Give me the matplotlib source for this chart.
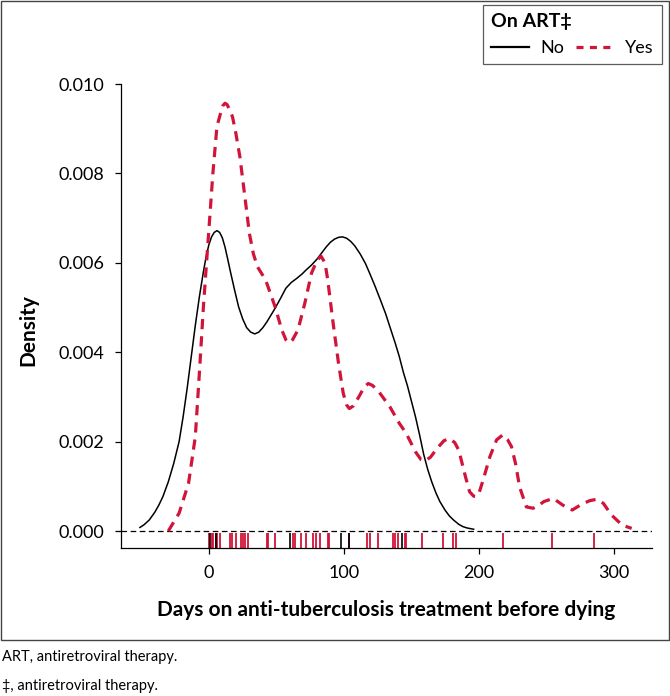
import matplotlib
matplotlib.use("Agg")
import matplotlib.pyplot as plt
from matplotlib.patches import Rectangle
from matplotlib.lines import Line2D

plt.rcParams['font.family'] = ['Lato', 'DejaVu Sans']

# density curves (days, density x 1000)
no_days = [-51, -48, -44, -40, -37, -34, -30, -26, -22, -19, -16, -13, -10, -7, -4, -2,
           0, 2, 4, 6, 8, 10, 12, 14, 16, 19, 22, 25, 28, 31, 34, 37, 40, 43, 46, 49,
           53, 57, 61, 65, 69, 72, 76, 80, 84, 87, 90, 93, 96, 99, 102, 105, 108, 112,
           116, 119, 123, 127, 131, 134, 138, 141, 144, 147, 150, 153, 156, 159, 162,
           165, 168, 171, 175, 178, 181, 185, 188, 191, 196]
no_dens = [0.08, 0.14, 0.25, 0.42, 0.58, 0.77, 1.1, 1.51, 2.0, 2.56, 3.2, 3.9, 4.6, 5.24,
           5.8, 6.14, 6.4, 6.58, 6.68, 6.72, 6.68, 6.56, 6.35, 6.08, 5.8, 5.4, 5.02,
           4.75, 4.55, 4.45, 4.41, 4.45, 4.55, 4.68, 4.83, 4.98, 5.2, 5.43, 5.56, 5.65,
           5.75, 5.84, 5.95, 6.08, 6.24, 6.36, 6.46, 6.53, 6.57, 6.58, 6.55, 6.48, 6.38,
           6.2, 5.98, 5.77, 5.48, 5.17, 4.85, 4.57, 4.2, 3.9, 3.55, 3.25, 2.9, 2.55,
           2.15, 1.72, 1.38, 1.1, 0.86, 0.66, 0.46, 0.34, 0.25, 0.15, 0.1, 0.07, 0.04]

yes_days = [-30, -22, -15, -10, -7, -4, -0.5, 3, 6, 9, 10.5, 12, 13.5, 15, 17.5, 20, 23,
            27, 30, 33, 36, 42, 49, 54, 57, 59.5, 62, 66, 71, 76, 80, 83, 86, 88, 92,
            96, 99.5, 102, 104, 107, 111, 115, 118, 121, 125, 134, 141, 146, 153, 157,
            160, 164, 169, 174, 178, 182, 185, 190, 193, 196, 198, 200, 203, 208, 213,
            217.5, 221, 224, 227, 230, 235, 240, 244, 248, 255, 262, 269, 276, 282, 287,
            292, 298, 306, 313]
yes_dens = [0, 0.4, 1.07, 2.11, 3.53, 5.02, 6.51, 8.0, 9.05, 9.38, 9.52, 9.57, 9.54,
            9.45, 9.27, 8.9, 8.37, 7.4, 6.66, 6.2, 5.91, 5.62, 5.02, 4.5, 4.28, 4.21,
            4.28, 4.5, 5.09, 5.77, 6.05, 6.15, 6.0, 5.62, 4.65, 3.75, 3.08, 2.82, 2.74,
            2.8, 3.0, 3.22, 3.3, 3.26, 3.15, 2.78, 2.41, 2.19, 1.77, 1.6, 1.57, 1.65,
            1.85, 2.02, 2.07, 1.98, 1.81, 1.21, 0.88, 0.78, 0.77, 0.85, 1.14, 1.66, 2.04,
            2.15, 2.05, 1.89, 1.51, 0.99, 0.54, 0.51, 0.57, 0.66, 0.73, 0.58, 0.47, 0.6,
            0.68, 0.71, 0.62, 0.36, 0.13, 0.06]

# rug (individual observations)
rug_no = [1, 5, 60, 98, 104, 143]
rug_yes = [0, 2, 3, 5, 6, 8, 16, 17, 20, 24, 25, 27, 29, 43, 44, 49, 62, 64, 68, 72, 77,
           79, 82, 88, 89, 104, 117, 119, 125, 136, 138, 140, 145, 146, 158, 173, 181,
           183, 218, 254, 285]

red = '#d2143a'

fig = plt.figure(figsize=(6.7, 6.96), dpi=100)
ax = fig.add_axes([0.1806, 0.2126, 0.7925, 0.6667])

ax.plot(no_days, [v / 1000 for v in no_dens], color='black', lw=1.1)
ax.plot(yes_days, [v / 1000 for v in yes_dens], color=red, lw=2.3,
        dashes=(3.2, 2.2), dash_capstyle='butt')
ax.axhline(0, color='black', lw=0.9, dashes=(4.5, 2.8), zorder=1)

ax.vlines(rug_yes, -0.00038, -0.00005, color=red, lw=1.3)
ax.vlines(rug_no, -0.00038, -0.00005, color='black', lw=1.2)

ax.set_xlim(-65, 328)
ax.set_ylim(-0.00038, 0.010)
ax.set_xticks([0, 100, 200, 300])
ax.set_yticks([0, 0.002, 0.004, 0.006, 0.008, 0.010])
ax.set_yticklabels(['0.000', '0.002', '0.004', '0.006', '0.008', '0.010'])
ax.tick_params(axis='both', direction='out', length=4, width=0.9, labelsize=13, pad=8)
ax.spines['top'].set_visible(False)
ax.spines['right'].set_visible(False)
ax.spines['left'].set_linewidth(0.9)
ax.spines['bottom'].set_linewidth(0.9)

ax.set_xlabel('Days on anti-tuberculosis treatment before dying', fontsize=15,
              fontweight='bold', labelpad=14)
ax.set_ylabel('Density', fontsize=15, fontweight='bold')
ax.yaxis.set_label_coords(-0.155, 0.47)

handles = [Line2D([], [], color='black', lw=1.6),
           Line2D([], [], color=red, lw=2.3, dashes=(2.2, 2.0))]
leg = fig.legend(handles, ['No', 'Yes'], title='On ART‡', ncol=2, loc='upper right',
                 bbox_to_anchor=(0.988, 0.993), borderaxespad=0, fontsize=13,
                 frameon=True, fancybox=False, edgecolor='#333333', handlelength=2.1,
                 handletextpad=0.6, columnspacing=0.7, borderpad=0.45,
                 labelspacing=0.55, alignment='left',
                 title_fontproperties={'weight': 'bold', 'size': 14})
leg.get_frame().set_linewidth(0.9)

fig.patches.append(Rectangle((0.0015, 0.0805), 0.997, 0.918, transform=fig.transFigure,
                             fill=False, edgecolor='#444444', lw=1.0))

fig.text(0.003, 0.056, 'ART, antiretroviral therapy.', fontsize=10.5, va='center')
fig.text(0.003, 0.014, '‡, antiretroviral therapy.', fontsize=10.5, va='center')

fig.savefig('out.png', dpi=100)
